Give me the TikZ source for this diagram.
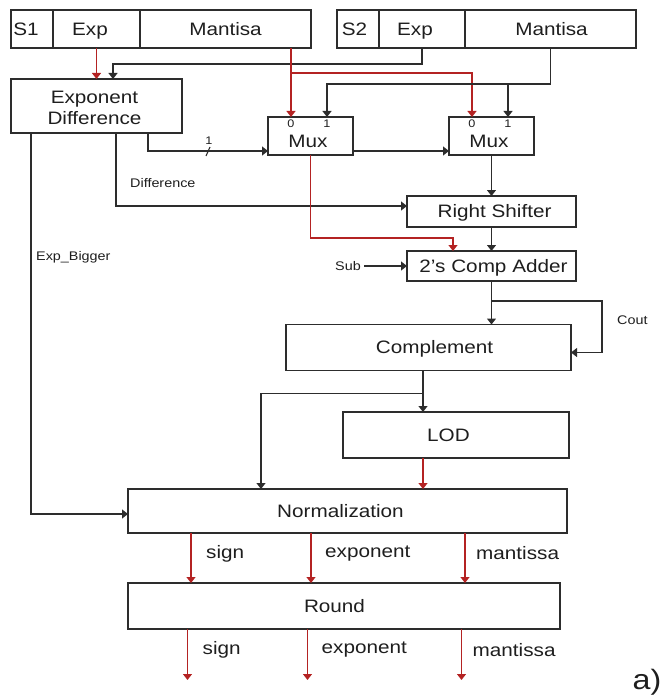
\documentclass[tikz,border=0pt]{standalone}
\usepackage{fontspec}
\setmainfont{Liberation Sans}[FakeStretch=1.15]
\usetikzlibrary{arrows.meta}
\definecolor{wire}{RGB}{45,45,45}
\definecolor{bus}{RGB}{180,35,35}
\definecolor{ink}{RGB}{30,30,30}

\tikzset{
  blk/.style={draw=wire, line width=1.3pt, inner sep=0pt, outer sep=0pt},
  txt/.style={font=\fontsize{18}{21}\selectfont, text=ink, inner sep=0pt, align=center,
              text height=12.9pt, text depth=0pt},
  txtml/.style={font=\fontsize{18}{21}\selectfont, text=ink, inner sep=0pt, align=center},
  arr/.style={draw=wire, line width=1.15pt, -{Triangle[width=9pt,length=6pt]}},
  redarr/.style={draw=bus, line width=1.15pt, -{Triangle[width=9pt,length=6pt]}},
  lbl/.style={font=\fontsize{12.5}{14}\selectfont, text=ink, inner sep=0pt},
  pin/.style={font=\fontsize{11}{12}\selectfont, text=ink, inner sep=0pt},
  sig/.style={font=\fontsize{18}{21}\selectfont, text=ink, inner sep=0pt, anchor=west},
}

\begin{document}
\begin{tikzpicture}[x=1pt,y=-1pt]
\useasboundingbox (0,0) rectangle (665,698);

% operand registers
\node[blk, minimum width=42pt, minimum height=38pt, label={[txt,xshift=-6pt]center:S1}] (s1) at (32,29) {};
\node[blk, minimum width=87pt, minimum height=38pt, label={[txt,xshift=-6.5pt]center:Exp}] (e1) at (96.5,29) {};
\node[blk, minimum width=171pt, minimum height=38pt, label={[txt]center:Mantisa}] (m1) at (225.5,29) {};
\node[blk, minimum width=42pt, minimum height=38pt, label={[txt,xshift=-3.5pt]center:S2}] (s2) at (358,29) {};
\node[blk, minimum width=86pt, minimum height=38pt, label={[txt,xshift=-7pt]center:Exp}] (e2) at (422,29) {};
\node[blk, minimum width=171pt, minimum height=38pt, label={[txt,xshift=1pt]center:Mantisa}] (m2) at (550.5,29) {};

% datapath blocks
\node[blk, minimum width=171pt, minimum height=54pt, label={[txtml,xshift=-2pt,yshift=-1.5pt]center:Exponent\\Difference}] (ed) at (96.5,106) {};
\node[blk, minimum width=85pt, minimum height=38pt, label={[txt,xshift=-2.5pt,yshift=-5pt]center:Mux}] (mux1) at (310.5,136) {};
\node[blk, minimum width=85pt, minimum height=38pt, label={[txt,xshift=-2.5pt,yshift=-5pt]center:Mux}] (mux2) at (491.5,136) {};
\node[blk, minimum width=169pt, minimum height=31pt, label={[txt,xshift=3pt]center:Right Shifter}] (rs) at (491.5,211.5) {};
\node[blk, minimum width=169pt, minimum height=30pt, label={[txt,xshift=2pt]center:2's Comp Adder}] (adder) at (491.5,266) {};
\node[blk, minimum width=285pt, minimum height=46pt, label={[txt,xshift=6pt]center:Complement}] (comp) at (428.5,347.5) {};
\node[blk, minimum width=226pt, minimum height=46pt, label={[txt,xshift=-7.5pt]center:LOD}] (lod) at (456,435) {};
\node[blk, minimum width=439pt, minimum height=44pt, label={[txt,xshift=-7pt]center:Normalization}] (norm) at (347.5,511) {};
\node[blk, minimum width=432pt, minimum height=46pt, label={[txt,xshift=-9.5pt]center:Round}] (rnd) at (344,606) {};

% multiplexer inputs
\coordinate (m1in0) at ([xshift=-19.5pt]mux1.north);
\coordinate (m1in1) at ([xshift=16.5pt]mux1.north);
\coordinate (m2in0) at ([xshift=-19.5pt]mux2.north);
\coordinate (m2in1) at ([xshift=16.5pt]mux2.north);
\node[pin] (p10) at (291,123.5) {0};
\node[pin] (p11) at (327,123.5) {1};
\node[pin] (p20) at (472,123.5) {0};
\node[pin] (p21) at (508,123.5) {1};

% exponent paths
\draw[redarr] (e1.south) -- (e1.south |- ed.north);
\draw[arr] (e2.south) -- ++(0,16) -| ([xshift=16.5pt]ed.north);

% mantissa paths into the multiplexers
\draw[redarr] (m1.south -| m1in0) -- (m1in0);
\draw[redarr] (m1.south -| m1in0) ++(0,25) -| (m2in0);
\draw[arr] (m2.south) -- ++(0,36) -| (m1in1);
\draw[arr] (m2.south) ++(0,36) -| (m2in1);

% select line (1 bit)
\draw[arr] ([xshift=51.5pt]ed.south) |- ([yshift=-15pt]mux1.west);
\draw[draw=wire, line width=1.1pt] (206,156) -- (210,147);
\node[pin] (selw) at (209,141) {1};
\draw[arr] ([yshift=-15pt]mux1.east) -- ([yshift=-15pt]mux2.west);

% shift amount and exponent
\draw[arr] ([xshift=19.5pt]ed.south) |- ([yshift=5.5pt]rs.west);
\node[lbl, anchor=west] (difflbl) at (130,183) {Difference};
\draw[arr] ([xshift=-65.5pt]ed.south) |- ([yshift=-3pt]norm.west);
\node[lbl, anchor=west] (eblbl) at (36,257) {Exp\_Bigger};

% alignment and addition
\draw[arr] (mux2.south) -- (rs.north);
\draw[redarr] (mux1.south) -- ++(0,83) -| ([xshift=-38.5pt]adder.north);
\draw[arr] (rs.south) -- (adder.north);
\node[lbl, anchor=east] (sub) at (361,266) {Sub};
\draw[arr] ([xshift=3pt]sub.east) -- (adder.west);

% complement with carry out
\draw[arr] (adder.south) -- (adder.south |- comp.north);
\draw[arr] (adder.south) ++(0,20) -- ++(110.5,0) |- ([yshift=-5pt]comp.east);
\node[lbl, anchor=west] (cout) at (617,320) {Cout};

% leading one detection and normalization
\draw[arr] ([xshift=-5.5pt]comp.south) -- ([xshift=-5.5pt]comp.south |- lod.north);
\draw[arr] ([xshift=-5.5pt]comp.south) ++(0,23) -| ([xshift=-86.5pt]norm.north);
\draw[redarr] ([xshift=-33pt]lod.south) -- ([xshift=-33pt]lod.south |- norm.north);

% result fields
\foreach \dx/\gap/\t/\n in {-156.5/15/sign/a, -36.5/14/exponent/b, 117.5/11/mantissa/c} {
  \draw[redarr] ([xshift=\dx pt]norm.south) -- ([xshift=\dx pt]norm.south |- rnd.north);
  \node[sig] (n\n) at ([xshift=\dx pt + \gap pt, yshift=-20.5pt]norm.south) {\t};
  \coordinate (out\n) at ([xshift=\dx pt, yshift=-51pt]rnd.south);
  \draw[redarr] ([xshift=\dx pt]rnd.south) -- (out\n);
  \node[sig] (r\n) at ([xshift=\dx pt + \gap pt, yshift=-21pt]rnd.south) {\t};
}

\node[font=\fontsize{28}{30}\selectfont, text=ink, inner sep=0pt] (tag) at (647,682) {a)};
\end{tikzpicture}
\end{document}
